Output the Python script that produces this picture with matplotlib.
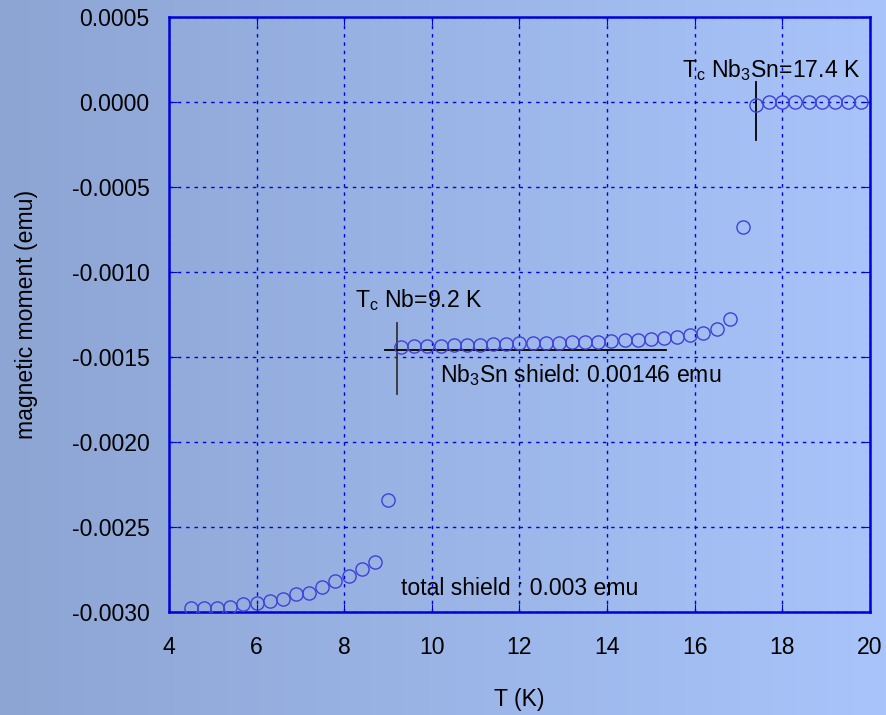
import numpy
import matplotlib
matplotlib.use("Agg")
import matplotlib.pyplot as plt
from matplotlib.ticker import FormatStrFormatter

plt.rcParams['font.family'] = ['Liberation Sans', 'DejaVu Sans']
plt.rcParams['mathtext.fontset'] = 'custom'
plt.rcParams['mathtext.rm'] = 'Liberation Sans'
plt.rcParams['mathtext.default'] = 'regular'
plt.rcParams['axes.unicode_minus'] = False

# temperature (K)
T = [4.5, 4.8, 5.1, 5.4, 5.7, 6.0, 6.3, 6.6, 6.9, 7.2, 7.5, 7.8, 8.1, 8.4, 8.7, 9.0,
     9.3, 9.6, 9.9, 10.2, 10.5, 10.8, 11.1, 11.4, 11.7, 12.0, 12.3, 12.6, 12.9,
     13.2, 13.5, 13.8, 14.1, 14.4, 14.7, 15.0, 15.3, 15.6, 15.9, 16.2, 16.5, 16.8,
     17.1, 17.4, 17.7, 18.0, 18.3, 18.6, 18.9, 19.2, 19.5, 19.8]
# magnetic moment (emu)
M = [-0.002978, -0.002978, -0.002975, -0.002969, -0.002955, -0.002945, -0.002935,
     -0.002925, -0.002896, -0.002886, -0.002851, -0.002818, -0.002786, -0.002749,
     -0.002706, -0.002341,
     -0.001439, -0.001435, -0.001433, -0.001433, -0.001431, -0.001429, -0.001427,
     -0.001425, -0.001423, -0.001420, -0.001418, -0.001416, -0.001416, -0.001414,
     -0.001412, -0.001410, -0.001404, -0.001400, -0.001398, -0.001394, -0.001388,
     -0.001380, -0.001371, -0.001361, -0.001337, -0.001278,
     -0.000735, -0.000018, 0.0, 0.0, 0.0, 0.0, 0.0, 0.0, 0.0, 0.0]

xticks = [4, 6, 8, 10, 12, 14, 16, 18, 20]
yticks = [-0.003, -0.0025, -0.002, -0.0015, -0.001, -0.0005, 0.0, 0.0005]

tc_nb = 9.2
tc_nb3sn = 17.4
shield_nb3sn = -0.00146

fig = plt.figure(figsize=(8.86, 7.15), dpi=100)

# background gradient
bg = fig.add_axes([0, 0, 1, 1], zorder=-1)
c1 = numpy.array([141, 165, 211]) / 255.0
c2 = numpy.array([168, 196, 250]) / 255.0
t = numpy.linspace(0, 1, 256)
grad = c1[None, None, :] * (1 - t)[None, :, None] + c2[None, None, :] * t[None, :, None]
bg.imshow(numpy.repeat(grad, 2, axis=0), aspect='auto', extent=[0, 1, 0, 1])
bg.axis('off')

ax = fig.add_axes([0.1907, 0.1441, 0.7912, 0.8321])
ax.set_facecolor('none')

ax.plot(T, M, 'o', mfc='none', mec=(0.25, 0.25, 0.85), ms=9.5, mew=1.0, zorder=3)

# annotations
ax.plot([tc_nb, tc_nb], [-0.0013, -0.00172], color='#333333', lw=1.3)
ax.plot([8.93, 15.35], [shield_nb3sn, shield_nb3sn], color='black', lw=1.3)
ax.plot([tc_nb3sn, tc_nb3sn], [0.000118, -0.000224], color='black', lw=1.3)

fs = 16.6
ax.text(8.25, -0.001206, r'T$_{c}$ Nb=9.2 K', fontsize=fs, va='baseline')
ax.text(10.19, -0.001645, r'Nb$_{3}$Sn shield: 0.00146 emu', fontsize=fs, va='baseline')
ax.text(15.70, 0.000145, r'T$_{c}$ Nb$_{3}$Sn=17.4 K', fontsize=fs, va='baseline')
ax.text(9.29, -0.0029, 'total shield : 0.003 emu', fontsize=fs, va='baseline')

ax.set_xlim(4, 20)
ax.set_ylim(-0.003, 0.0005)
ax.set_xticks(xticks)
ax.set_yticks(yticks)
ax.yaxis.set_major_formatter(FormatStrFormatter('%.4f'))
ax.tick_params(direction='in', length=6, color=(0, 0, 0.85), labelsize=fs,
               top=True, right=True)
ax.tick_params(axis='x', pad=17)
ax.tick_params(axis='y', pad=14)
ax.grid(True, color=(0, 0, 0.9), lw=1.0, linestyle=(0, (2.5, 3.5)))
for s in ax.spines.values():
    s.set_color((0, 0, 0.85))
    s.set_linewidth(1.8)

ax.set_xlabel('T (K)', fontsize=fs, labelpad=21.5)
ax.set_ylabel('magnetic moment (emu)', fontsize=fs, labelpad=24)

fig.savefig('out.png', dpi=100)
